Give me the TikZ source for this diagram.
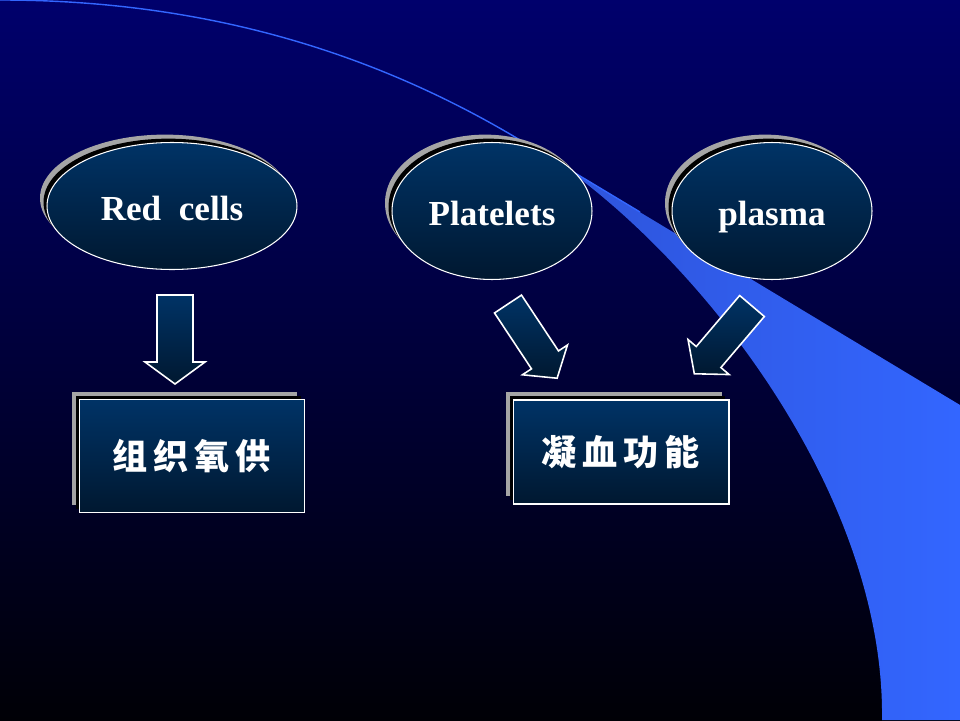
\documentclass[tikz,border=0pt]{standalone}
\usepackage{fontspec}
\setmainfont{Liberation Serif}
\newfontfamily\cjk{Noto Sans CJK SC}
\usetikzlibrary{shapes.geometric,shadows,calc}

\definecolor{navytop}{RGB}{0,0,108}
\definecolor{navymid}{RGB}{0,0,70}
\definecolor{navybot}{RGB}{0,0,6}
\definecolor{crescent}{RGB}{51,102,255}
\definecolor{crescentdk}{RGB}{46,84,218}
\definecolor{cellhi}{RGB}{0,51,102}
\definecolor{celllo}{RGB}{0,24,48}
\definecolor{shadowgrey}{RGB}{165,165,165}

\tikzset{
  cellbody/.style={draw=white, line width=0.6pt, top color=cellhi, bottom color=celllo, text=white,
    general shadow={fill=shadowgrey, shadow xshift=-4pt, shadow yshift=4.5pt},
    general shadow={fill=black, shadow xshift=-2pt, shadow yshift=2.2pt}},
  cell/.style={cellbody, ellipse, inner sep=0pt, text height=16pt, text depth=0pt,
    font=\bfseries\fontsize{20}{24}\selectfont},
  task/.style={cellbody, rectangle, inner sep=0pt, font=\cjk\bfseries\fontsize{20}{24}\selectfont},
  arrowbody/.style={draw=white, line width=0.9pt, line join=miter, top color=cellhi, bottom color=celllo},
  blkarrow/.pic={\path[arrowbody] (0,-18) -- (67,-18) -- (67,-30) -- (89,0) -- (67,30) -- (67,18) -- (0,18) -- cycle;}
}

\begin{document}
\begin{tikzpicture}[x=0.02cm, y=-0.02cm]

    %Hintergrund
    \useasboundingbox (0,0) rectangle (960,720);
    \shade[top color=navytop, middle color=navymid, bottom color=navybot] (0,0) rectangle (960,720);

    %Sichel
    \shade[left color=crescentdk, right color=crescent] (560,164) -- (960,405) -- (960,720) -- (882,720)
        .. controls (885,500) and (710,270) .. (560,164) -- cycle;
    \draw[crescent, line width=0.8pt] (0,0) .. controls (200,0) and (370,50) .. (520,140) -- (640,212);

    %Bestandteile
    \node[cell, minimum width=5cm, minimum height=2.54cm] (red) at (172,206) {Red~~cells};
    \node[cell, minimum width=4cm, minimum height=2.74cm] (plt) at (492,211) {Platelets};
    \node[cell, minimum width=4cm, minimum height=2.74cm] (pls) at (772,211) {plasma};

    %Funktionen
    \node[task, minimum width=4.5cm, minimum height=2.26cm] (oxy) at (192,456) {组\,织\,氧\,供};
    \node[task, minimum width=4.32cm, minimum height=2.08cm] (coag) at (621,452) {凝\,血\,功\,能};

    %Pfeile
    \pic[rotate=-90] at ($(red.south)+(3,25)$) {blkarrow};
    \pic[rotate=-56.5, yscale=0.9] at ($(plt.south)+(16,24)$) {blkarrow};
    \pic[rotate=-130.4, yscale=0.9] at ($(pls.south)+(-20,26)$) {blkarrow};

\end{tikzpicture}
\end{document}
